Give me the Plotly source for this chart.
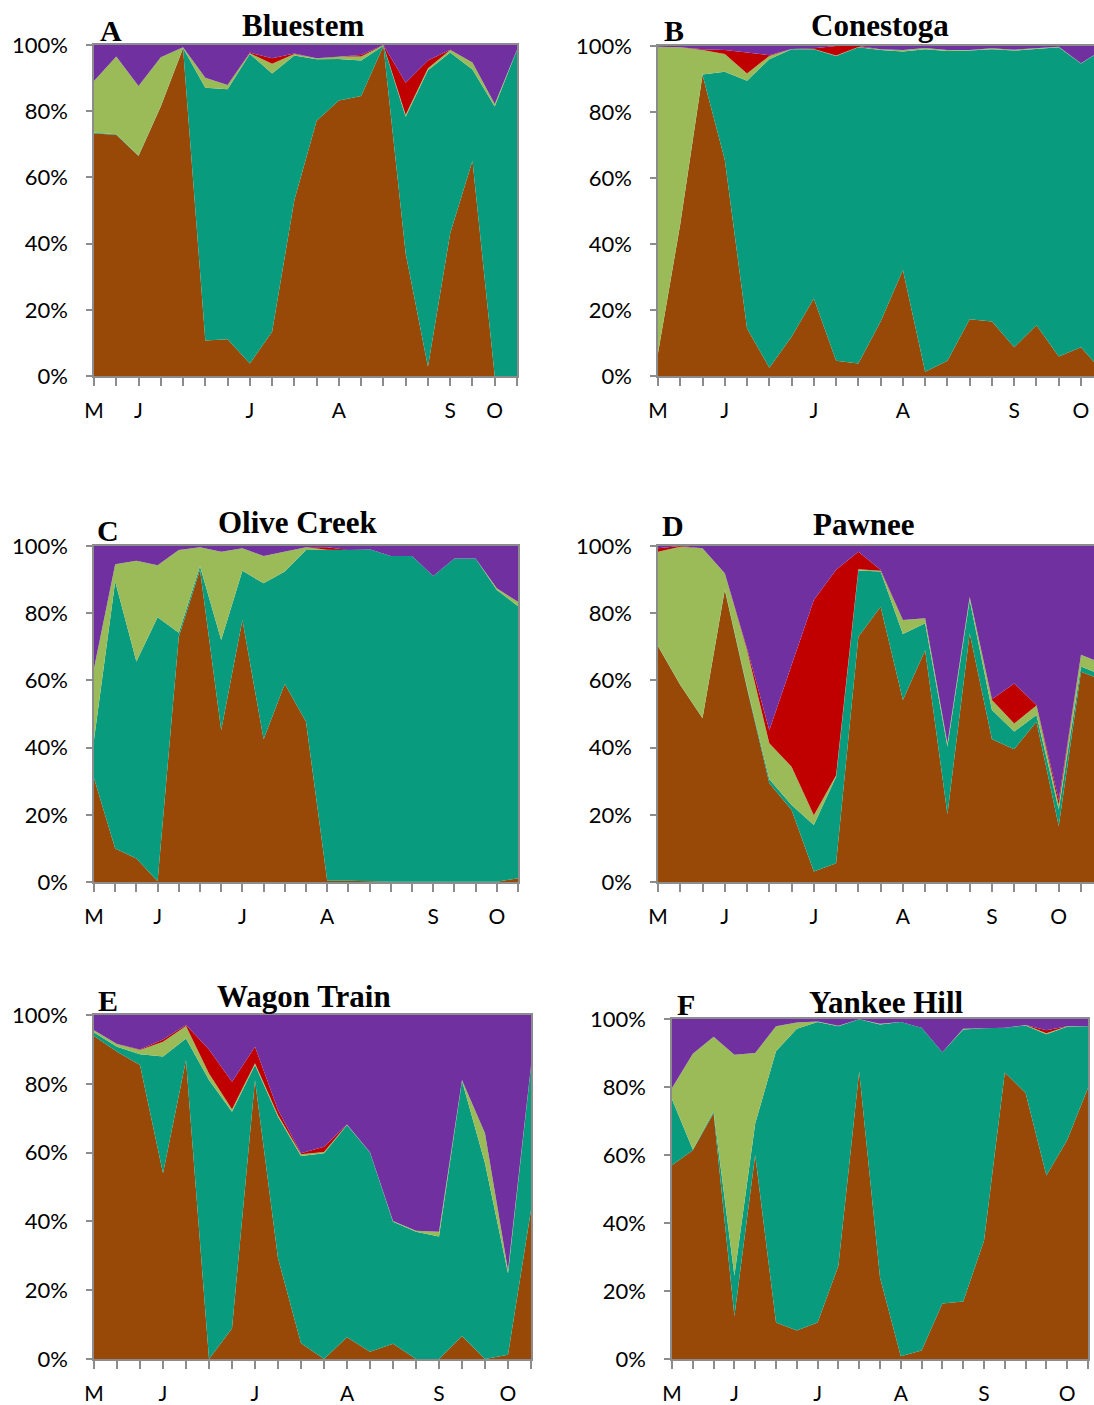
import plotly.graph_objects as go

W, H = 1094, 1405

# ---------------- data (percent of each class per sampling date) ----------------
colors = {"brown": "#984807", "teal": "#089B7D", "green": "#9BBB59", "red": "#C00000", "purple": "#7030A0"}
series_order = ["brown", "teal", "green", "red", "purple"]

# A  Bluestem
A_brown  = [73.3, 72.9, 66.5, 81.4, 99.0, 10.7, 11.1, 3.8, 13.4, 53.2, 77.1, 83.2, 84.6, 99.7, 37.0, 2.8, 43.1, 65.0, 0.0, 0.0]
A_teal   = [0.2, 0.1, 0.1, 0.1, 0.1, 76.4, 75.5, 93.5, 78.0, 43.6, 18.6, 12.6, 10.7, 0.1, 41.3, 89.6, 54.6, 27.6, 81.4, 98.5]
A_green  = [15.6, 23.5, 21.0, 14.8, 0.2, 3.0, 1.3, 0.2, 2.9, 0.5, 0.3, 0.7, 1.2, 0.1, 0.6, 0.6, 0.8, 2.1, 0.8, 0.1]
A_red    = [0, 0, 0, 0, 0, 0, 0, 0.2, 1.7, 0.1, 0, 0.1, 0.5, 0.1, 9.7, 2.3, 0.1, 0, 0, 0]
A_purple = [10.9, 3.5, 12.4, 3.7, 0.7, 9.9, 12.1, 2.3, 4.0, 2.6, 4.0, 3.4, 3.0, 0.0, 11.4, 4.7, 1.4, 5.3, 17.8, 1.4]
A_labels = ["M", "", "J", "", "", "", "", "J", "", "", "", "A", "", "", "", "", "S", "", "O", ""]

# B  Conestoga
B_brown  = [6.9, 46.0, 91.2, 65.5, 14.4, 2.5, 11.9, 23.5, 4.6, 3.8, 16.5, 32.1, 1.3, 4.6, 17.2, 16.5, 8.7, 15.4, 5.9, 8.7, 1.0]
B_teal   = [0.1, 0.1, 0.2, 26.7, 75.1, 93.5, 87.1, 75.5, 92.4, 95.8, 82.3, 66.2, 97.7, 93.9, 81.4, 82.5, 89.9, 83.6, 93.7, 86.0, 98.0]
B_green  = [92.8, 53.5, 7.4, 5.4, 2.2, 1.0, 0.1, 0.1, 0.1, 0.1, 0.2, 0.5, 0.4, 0.3, 0.2, 0.3, 0.3, 0.3, 0.2, 0.1, 0.1]
B_red    = [0, 0, 0.2, 1.2, 6.3, 0.2, 0, 0.2, 2.9, 0.3, 0, 0, 0, 0, 0, 0, 0, 0, 0, 0, 0]
B_purple = [0.2, 0.4, 1.0, 1.2, 2.0, 2.8, 0.9, 0.7, 0.0, 0.0, 1.0, 1.2, 0.6, 1.2, 1.2, 0.7, 1.1, 0.7, 0.2, 5.2, 0.9]
B_labels = ["M", "", "", "J", "", "", "", "J", "", "", "", "A", "", "", "", "", "S", "", "", "O", ""]

# C  Olive Creek
C_brown  = [30.9, 10.0, 7.0, 0.2, 73.0, 92.9, 45.2, 78.0, 42.5, 58.9, 47.7, 0.4, 0.4, 0.2, 0.1, 0.1, 0.1, 0.1, 0.1, 0.1, 1.1]
C_teal   = [11.4, 79.4, 58.6, 78.6, 1.2, 1.1, 26.8, 14.6, 46.4, 33.5, 51.1, 98.4, 98.4, 98.8, 96.9, 96.9, 91.0, 96.2, 96.2, 86.8, 81.0]
C_green  = [21.3, 5.2, 30.0, 15.5, 24.6, 5.6, 26.3, 6.7, 8.1, 5.9, 0.8, 0.1, 0, 0, 0, 0, 0, 0, 0, 0.5, 1.3]
C_red    = [0, 0, 0, 0, 0, 0, 0, 0, 0, 0, 0, 0.7, 0, 0, 0, 0, 0, 0, 0, 0, 0]
C_purple = [36.4, 5.4, 4.4, 5.7, 1.2, 0.4, 1.7, 0.7, 3.0, 1.7, 0.4, 0.4, 1.2, 1.0, 3.0, 3.0, 8.9, 3.7, 3.7, 12.6, 16.6]
C_labels = ["M", "", "", "J", "", "", "", "J", "", "", "", "A", "", "", "", "", "S", "", "", "O", ""]

# D  Pawnee
D_brown  = [70.2, 58.6, 48.7, 86.9, 57.6, 29.4, 21.4, 3.1, 5.6, 73.0, 81.9, 54.2, 69.0, 20.2, 74.0, 42.5, 39.5, 47.7, 16.7, 62.6, 60.0]
D_teal   = [0.1, 0.1, 0.1, 0.2, 0.4, 1.2, 1.5, 13.9, 25.7, 19.7, 10.5, 19.6, 8.0, 20.1, 9.9, 8.7, 5.3, 2.0, 4.9, 1.5, 1.5]
D_green  = [28.0, 41.1, 50.5, 4.8, 11.0, 10.7, 11.4, 2.9, 0.5, 0.4, 0.2, 4.2, 1.5, 1.0, 1.0, 3.0, 2.4, 2.8, 1.3, 3.5, 3.5]
D_red    = [1.0, 0.2, 0, 0, 0.5, 3.9, 30.3, 64.0, 61.1, 5.2, 0.3, 0, 0, 0, 0, 0.2, 11.9, 0.2, 1.5, 0, 0]
D_purple = [0.7, 0.0, 0.7, 8.1, 30.5, 54.8, 35.4, 16.1, 7.1, 1.7, 7.1, 22.0, 21.5, 58.7, 15.1, 45.6, 40.9, 47.3, 75.6, 32.4, 35.0]
D_labels = ["M", "", "", "J", "", "", "", "J", "", "", "", "A", "", "", "", "S", "", "", "O", "", ""]

# E  Wagon Train
E_brown  = [93.9, 89.3, 85.5, 54.0, 86.9, 0.0, 8.9, 81.1, 29.3, 4.6, 0.0, 6.3, 2.1, 4.4, 0.0, 0.0, 6.7, 0.0, 1.2, 43.3]
E_teal   = [1.0, 1.5, 3.1, 33.9, 6.3, 81.1, 63.0, 4.4, 41.1, 54.4, 59.8, 61.7, 57.9, 35.5, 37.0, 35.6, 74.2, 56.9, 23.7, 41.7]
E_green  = [0.7, 0.8, 1.2, 4.3, 3.6, 1.9, 0.7, 0.5, 0.5, 0.5, 0.4, 0.2, 0.1, 0.2, 0.3, 1.4, 0.2, 8.7, 1.0, 0.2]
E_red    = [0, 0, 0.2, 0.7, 0.3, 7.0, 8.0, 4.8, 1.5, 0.3, 1.5, 0, 0, 0, 0, 0, 0, 0, 0, 0]
E_purple = [4.4, 8.4, 10.0, 7.1, 2.9, 10.0, 19.4, 9.2, 27.6, 40.2, 38.3, 31.8, 39.9, 59.9, 62.7, 63.0, 18.9, 34.4, 74.1, 14.8]
E_labels = ["M", "", "", "J", "", "", "", "J", "", "", "", "A", "", "", "", "S", "", "", "O", ""]

# F  Yankee Hill
F_brown  = [57.0, 61.4, 72.3, 12.6, 60.0, 10.7, 8.4, 10.7, 27.4, 84.6, 24.0, 0.8, 2.5, 16.3, 16.9, 34.8, 84.3, 78.2, 54.0, 64.4, 79.7]
F_teal   = [19.4, 0.2, 0.5, 11.9, 9.3, 79.8, 88.7, 88.4, 70.5, 15.3, 74.4, 98.3, 94.9, 73.9, 80.0, 62.5, 13.1, 19.9, 41.5, 33.3, 18.2]
F_green  = [3.3, 28.2, 22.0, 65.0, 20.7, 7.4, 1.9, 0.2, 0.1, 0.0, 0.2, 0, 0, 0, 0.2, 0, 0, 0.1, 0.3, 0.2, 0]
F_red    = [0, 0, 0, 0, 0, 0, 0, 0, 0, 0, 0, 0, 0, 0, 0, 0, 0, 0, 0.9, 0, 0]
F_purple = [20.3, 10.2, 5.2, 10.5, 10.0, 2.1, 1.0, 0.7, 2.0, 0.1, 1.4, 0.9, 2.6, 9.8, 2.9, 2.7, 2.6, 1.8, 3.3, 2.1, 2.1]
F_labels = ["M", "", "", "J", "", "", "", "J", "", "", "", "A", "", "", "", "S", "", "", "", "O", ""]

panels = [
    ("A", "Bluestem",    [A_brown, A_teal, A_green, A_red, A_purple], A_labels),
    ("B", "Conestoga",   [B_brown, B_teal, B_green, B_red, B_purple], B_labels),
    ("C", "Olive Creek", [C_brown, C_teal, C_green, C_red, C_purple], C_labels),
    ("D", "Pawnee",      [D_brown, D_teal, D_green, D_red, D_purple], D_labels),
    ("E", "Wagon Train", [E_brown, E_teal, E_green, E_red, E_purple], E_labels),
    ("F", "Yankee Hill", [F_brown, F_teal, F_green, F_red, F_purple], F_labels),
]

# ---------------- layout geometry (pixels) ----------------
geom = {
    "A": (94, 517, 45, 376, None, False),
    "B": (658, 1094, 46, 376, 19 + 13 / 22.27, True),
    "C": (94, 518, 546, 882, None, False),
    "D": (658, 1094, 546, 882, 19 + 13 / 22.27, True),
    "E": (94, 531, 1015, 1359, None, False),
    "F": (672, 1088, 1019, 1359, None, False),
}
letter_pos = {"A": (111, 30), "B": (674, 31), "C": (108, 530), "D": (673, 526), "E": (108, 1000), "F": (686, 1004)}
title_pos = {"A": (303, 25), "B": (880, 25), "C": (298, 522), "D": (864, 524), "E": (304, 996), "F": (886, 1002)}

fig = go.Figure()
axis_color = "#8c8c8c"
tick_font = dict(family="Lato, Open Sans, sans-serif", size=21, color="#000000")
ytick_font = dict(family="Lato, Open Sans, sans-serif", size=22, color="#000000")
annotations = []

for i, (letter, title, vals, labels) in enumerate(panels, start=1):
    x0, x1, yt, yb, xmax, cropped = geom[letter]
    n = len(vals[0])
    xs = list(range(n))
    xa = "x" if i == 1 else f"x{i}"
    ya = "y" if i == 1 else f"y{i}"
    for name, v in zip(series_order, vals):
        fig.add_trace(go.Scatter(
            x=xs, y=v, xaxis=xa, yaxis=ya, mode="lines",
            stackgroup=f"g{i}", groupnorm="percent",
            line=dict(width=0, color=colors[name]), fillcolor=colors[name],
            name=name, showlegend=False, hoverinfo="skip"))
    rng_max = xmax if xmax is not None else n - 1
    xkey = "xaxis" if i == 1 else f"xaxis{i}"
    ykey = "yaxis" if i == 1 else f"yaxis{i}"
    fig.layout[xkey] = dict(
        domain=[x0 / W, x1 / W], anchor=ya, range=[0, rng_max], automargin=False,
        tickmode="array", tickvals=xs, ticktext=labels,
        ticks="outside", ticklen=8, tickwidth=1.5, tickcolor=axis_color,
        showline=True, linecolor=axis_color, linewidth=1.5, mirror=True,
        showgrid=False, zeroline=False, tickfont=tick_font, ticklabelstandoff=7,
    )
    fig.layout[ykey] = dict(
        domain=[1 - yb / H, 1 - yt / H], anchor=xa, range=[0, 100], automargin=False,
        tickmode="array", tickvals=[0, 20, 40, 60, 80, 100],
        ticktext=["0%", "20%", "40%", "60%", "80%", "100%"],
        ticks="outside", ticklen=6, tickwidth=1.5, tickcolor=axis_color,
        showline=True, linecolor=axis_color, linewidth=1.5, mirror=not cropped,
        showgrid=False, zeroline=False, tickfont=ytick_font, ticklabelstandoff=14,
    )
    lx, ly = letter_pos[letter]
    annotations.append(dict(text=f"<b>{letter}</b>", x=lx / W, y=1 - ly / H, xref="paper", yref="paper",
                            showarrow=False, xanchor="center", yanchor="middle",
                            font=dict(family="Liberation Serif, Times New Roman, serif", size=30, color="#000")))
    tx, ty = title_pos[letter]
    annotations.append(dict(text=f"<b>{title}</b>", x=tx / W, y=1 - ty / H, xref="paper", yref="paper",
                            showarrow=False, xanchor="center", yanchor="middle",
                            font=dict(family="Liberation Serif, Times New Roman, serif", size=31, color="#000")))

fig.update_layout(
    template="none",
    width=W, height=H, margin=dict(l=0, r=0, t=0, b=0, pad=0), autosize=False,
    paper_bgcolor="white", plot_bgcolor="white",
    annotations=annotations, showlegend=False,
)

fig.write_html("out.html", config={"displayModeBar": False},
               post_script="document.body.style.margin='0';")
